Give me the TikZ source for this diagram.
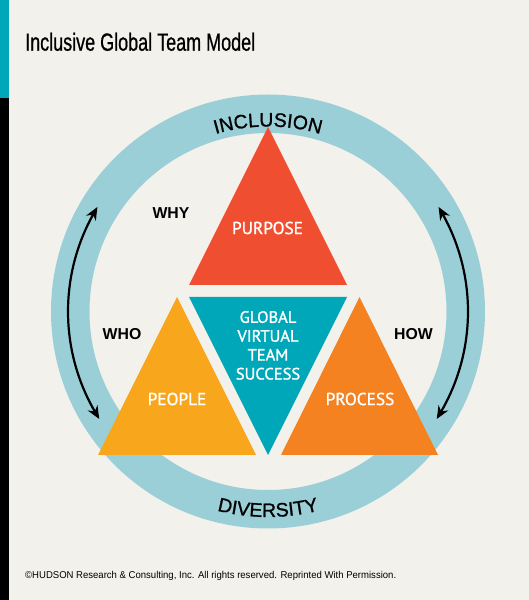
\documentclass[tikz,border=0pt]{standalone}
\usepackage{fontspec}
\usepackage{graphicx}
\setmainfont{Liberation Sans}
\newfontfamily\labfont[FakeBold=1.3]{PT Sans}
\newfontfamily\ringfam[FakeBold=1]{Liberation Sans}
\newfontfamily\titlefam[FakeBold=0.8]{Liberation Sans}
\usetikzlibrary{decorations.text,arrows.meta,bending}
\definecolor{bgcol}{HTML}{F2F1EC}
\definecolor{ringcol}{HTML}{9BCFD8}
\definecolor{purposecol}{HTML}{F04E30}
\definecolor{tealcol}{HTML}{00A7B8}
\definecolor{peoplecol}{HTML}{F8A61B}
\definecolor{processcol}{HTML}{F58220}
\newcommand\ringtxtfont{\ringfam\fontsize{19.5}{19.5}\selectfont}
\tikzset{
  sidelabel/.style={font=\bfseries\fontsize{15.8}{16}\selectfont, text=black, inner sep=0pt},
  trilabel/.style={font=\labfont\fontsize{17.3}{17.3}\selectfont, text=white, inner sep=0pt},
  cyclearrow/.style={draw=black, line width=2.2pt, {Stealth[length=13pt,width=11pt,bend]}-{Stealth[length=13pt,width=11pt,bend]}},
}
\begin{document}
\begin{tikzpicture}[x=1pt,y=1pt]
\useasboundingbox (0,0) rectangle (529,600);
\fill[bgcol] (0,0) rectangle (529,600);
\fill[tealcol] (0,502) rectangle (9,600);
\fill[black] (0,0) rectangle (9,502);
\node[anchor=base west, inner sep=0pt] (title) at (25,549.3)
  {\resizebox{230pt}{18pt}{\titlefam Inclusive Global Team Model}};
\node[anchor=base west, inner sep=0pt] (footer) at (25,21.7)
  {\resizebox{371pt}{7.2pt}{\textcopyright HUDSON Research \& Consulting, Inc. All rights reserved. Reprinted With Permission.}};
\coordinate (C) at (268,288.5);
\fill[ringcol, even odd rule] (C) circle[radius=217] (C) circle[radius=178.5];
\path[decorate, decoration={text along path, text={|\ringtxtfont|INCLUSION}, text align=center}]
  ([shift={(135:185)}]C) arc[start angle=135, end angle=45, radius=185];
\path[decorate, decoration={text along path, text={|\ringtxtfont|DIVERSITY}, text align=center}]
  ([shift={(225:205.5)}]C) arc[start angle=225, end angle=315, radius=205.5];
\draw[cyclearrow] ([shift={(148.5:200)}]C) arc[start angle=148.5, end angle=212.5, radius=200];
\draw[cyclearrow] ([shift={(31.5:200)}]C) arc[start angle=31.5, end angle=-32.5, radius=200];
\fill[purposecol] (268,473) -- (347,315) -- (189,315) -- cycle;
\fill[tealcol] (189,303) -- (347,303) -- (268,145) -- cycle;
\fill[peoplecol] (177,303) -- (256,145) -- (98,145) -- cycle;
\fill[processcol] (359.5,303) -- (438,145) -- (281,145) -- cycle;
\node[sidelabel] (why) at (171,387) {WHY};
\node[sidelabel] (who) at (122,266) {WHO};
\node[sidelabel] (how) at (413.5,266) {HOW};
\node[trilabel] (purpose) at (267.5,372) {PURPOSE};
\node[trilabel] (people) at (177,201) {PEOPLE};
\node[trilabel] (process) at (360,201) {PROCESS};
\node[trilabel, align=center, font=\labfont\fontsize{16.5}{18.9}\selectfont] (gvts) at (268,254.6) {GLOBAL\\VIRTUAL\\TEAM\\SUCCESS};
\end{tikzpicture}
\end{document}
